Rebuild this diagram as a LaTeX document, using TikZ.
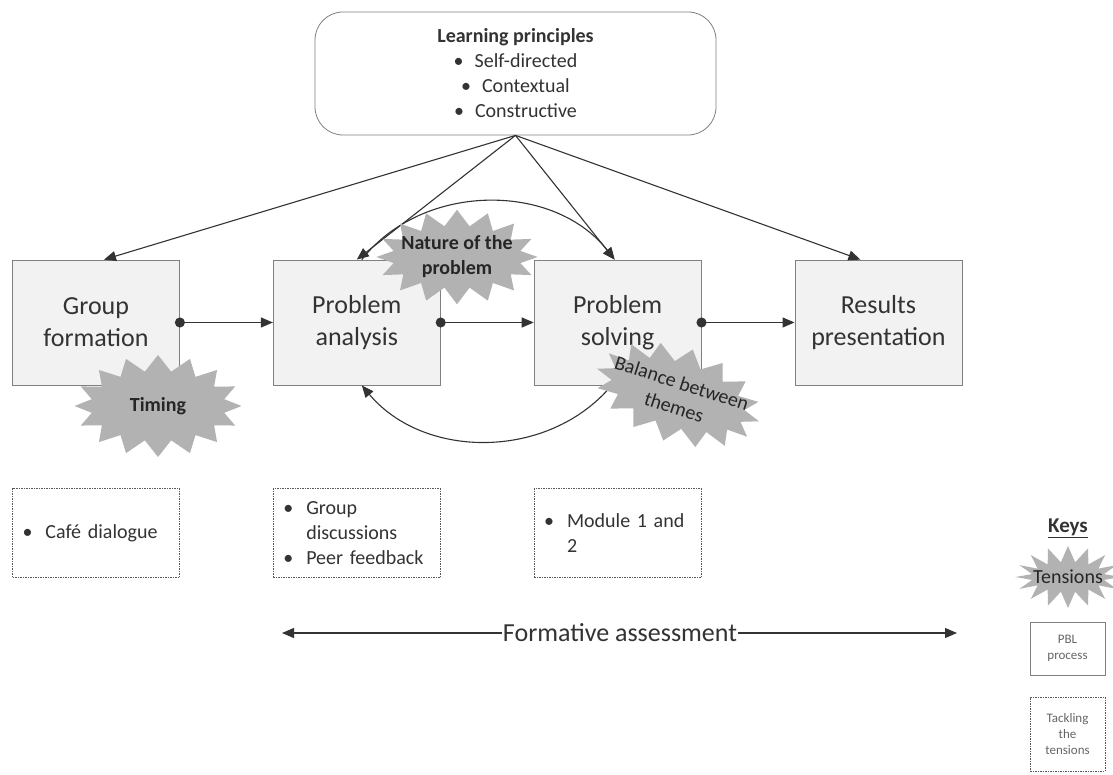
\documentclass[tikz,border=0pt]{standalone}
\usepackage{fontspec}
\setmainfont{Carlito}
\usetikzlibrary{arrows.meta,positioning,shapes.symbols}
\newcommand{\bul}{\makebox[23pt][l]{\textbullet}}
\newcommand{\fsz}[2]{\fontsize{#1}{#2}\selectfont}

\begin{document}
\begin{tikzpicture}[
  x=1pt, y=1pt,
  font=\fsz{26}{32},
  text=black!80,
  stage/.style={draw=black!50, fill=black!5, line width=0.8pt, minimum width=167pt, minimum height=125pt, align=center, inner sep=2pt},
  tackle/.style={draw=black!65, fill=white, dash pattern=on 1.5pt off 1pt, line width=0.8pt, minimum height=89pt, text width=147pt, inner xsep=10pt, align=left, font=\fsz{20}{25}},
  tensionstar/.style={starburst, starburst points=16, random starburst=0, starburst point height=16pt, fill=black!30, align=center, text=black!85, inner sep=0pt},
  principles/.style={draw=black!50, fill=white, rounded corners=28pt, line width=0.8pt, minimum width=401pt, minimum height=123pt, align=center, font=\fsz{20}{25}},
  keybox/.style={draw=black!50, line width=0.8pt, minimum width=75pt, align=center, font=\fsz{13}{16}, text=black!60},
  arrow/.style={-{Triangle[length=12pt,width=10pt]}, line width=1.1pt, draw=black!80},
  flow/.style={arrow, {Circle[length=10pt]}-{Triangle[length=12pt,width=10pt]}, shorten <=-5pt}
]
\path[use as bounding box, fill=white] (0,0) rectangle (1113,774);

\node[principles] (lp) at (515.5,700.5) {
  \textbf{Learning principles}\\
  \textbullet\hspace{11pt}Self-directed\\
  \textbullet\hspace{11pt}Contextual\\
  \textbullet\hspace{11pt}Constructive
};

\node[stage] (gf) at (96,451.5) {Group\\formation};
\node[stage, right=93pt of gf] (pa) {Problem\\analysis};
\node[stage, right=93pt of pa] (ps) {Problem\\solving};
\node[stage, right=93pt of ps] (rp) {Results\\presentation};

\node[tackle, below=103pt of gf] (cafe) {\bul Café dialogue};
\node[tackle, below=103pt of pa] (disc) {\bul Group\\\hspace*{23pt}discussions\\\bul Peer feedback};
\node[tackle, below=103pt of ps] (mod) {\bul Module 1 and\\\hspace*{23pt}2};

\node[inner xsep=1pt] (fa) at (620,141) {Formative assessment};
\coordinate (faL) at (282,141);
\coordinate (faR) at (957,141);

\draw[arrow] (lp.south) -- ([xshift=8pt]gf.north);
\draw[arrow] (lp.south) -- (pa.north);
\draw[arrow] (lp.south) -- ([xshift=-3pt]ps.north);
\draw[arrow] (lp.south) -- ([xshift=-18pt]rp.north);
\draw[flow] (gf.east) -- (pa.west);
\draw[flow] (pa.east) -- (ps.west);
\draw[flow] (ps.east) -- (rp.west);
\draw[arrow] ([xshift=5pt]pa.north) to[out=52, in=128] ([xshift=-3pt]ps.north);
\draw[arrow] ([xshift=-6pt]ps.south) to[out=230, in=310] ([xshift=5pt]pa.south);
\draw[arrow] (fa.west) -- (faL);
\draw[arrow] (fa.east) -- (faR);

\node[tensionstar, font=\bfseries\fsz{20}{25}, inner xsep=-10pt, inner ysep=1pt] (nat) at (457,517) {Nature of the\\problem};
\node[tensionstar, font=\bfseries\fsz{20}{25}, minimum width=167pt, minimum height=102pt] (tim) at (158,368) {Timing};
\node[tensionstar, font=\fsz{20}{25}, inner xsep=-21pt, inner ysep=3pt, rotate=-18] (bal) at (678,379) {Balance between\\themes};

\node[font=\bfseries\fsz{21}{25}] (keys) at (1068,246) {\underline{Keys}};
\node[tensionstar, font=\fsz{20}{24}, inner xsep=-9pt, minimum height=62pt] (ten) at (1068,197) {Tensions};
\node[keybox, minimum height=53pt] (pbl) at (1067.5,125.5) {PBL\\process};
\node[keybox, dash pattern=on 1.5pt off 1pt, draw=black!65, minimum height=74pt] (tack) at (1067.5,40) {Tackling\\the\\tensions};

\end{tikzpicture}
\end{document}
